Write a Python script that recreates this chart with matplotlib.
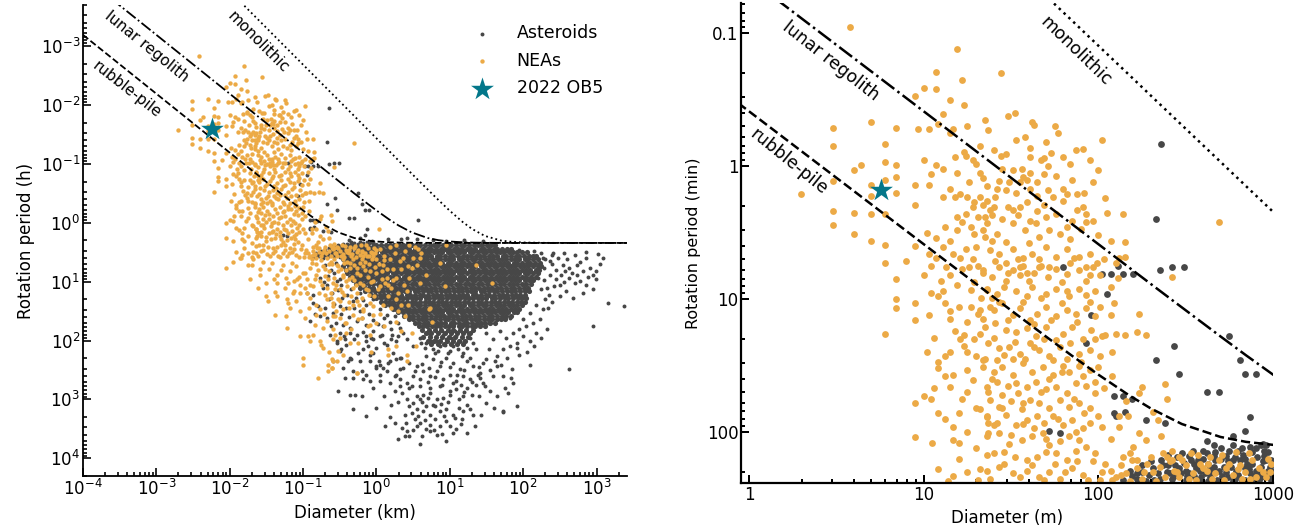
import numpy as np
import matplotlib
matplotlib.use("Agg")
import matplotlib.pyplot as plt
from matplotlib.ticker import LogLocator, NullFormatter

GREY = "#474747"
ORANGE = "#ECAA46"
TEAL = "#03778A"

# spin-barrier curves: diameter (km) vs period (h)
curve_d_km = [1e-4, 1e-3, 0.01, 0.03, 0.05, 0.07, 0.1, 0.15, 0.2, 0.3, 0.5, 0.7,
              1, 1.5, 2, 3, 5, 7, 10, 15, 20, 30, 50, 70, 100, 200, 500, 3000]
rubble_p_h = [6.43e-4, 6.43e-3, 0.0643, 0.192, 0.318, 0.441, 0.617, 0.883, 1.110,
              1.450, 1.816, 1.977, 2.082, 2.145, 2.169, 2.186, 2.195, 2.198, 2.199,
              2.2, 2.2, 2.2, 2.2, 2.2, 2.2, 2.2, 2.2, 2.2]
lunar_p_h = [6.43e-5, 6.43e-4, 6.43e-3, 0.0193, 0.0322, 0.0450, 0.0643, 0.0964,
             0.1284, 0.192, 0.318, 0.441, 0.617, 0.883, 1.110, 1.450, 1.816, 1.977,
             2.082, 2.145, 2.169, 2.186, 2.195, 2.198, 2.199, 2.2, 2.2, 2.2]
mono_p_h = [3.67e-7, 6.53e-6, 1.161e-4, 4.58e-4, 8.68e-4, 1.320e-3, 2.064e-3,
            3.42e-3, 4.91e-3, 8.15e-3, 0.01543, 0.02351, 0.0367, 0.0609, 0.0873,
            0.1449, 0.2723, 0.4107, 0.6257, 0.9717, 1.268, 1.673, 2.006, 2.110,
            2.162, 2.193, 2.2, 2.2]

# 2022 OB5
ob5_d_m = 5.7
ob5_p_min = 1.52

# points inside the right-hand window: (log10 diameter [m], log10 period [min])
nea_small = [
    (0.58, -1.05), (1.19, -0.88), (1.07, -0.71), (1.22, -0.65), (1.00, -0.59), (1.07, -0.58),
    (0.95, -0.53), (1.15, -0.50), (1.23, -0.46), (1.11, -0.39), (0.48, -0.29), (0.70, -0.33),
    (0.84, -0.29), (0.97, -0.28), (1.03, -0.28), (1.08, -0.32), (1.15, -0.25), (1.17, -0.28),
    (1.25, -0.30), (0.48, -0.15), (0.78, -0.17), (1.32, -0.15), (0.64, -0.01), (0.60, 0.03),
    (0.78, -0.03), (0.84, -0.01), (0.48, 0.11), (0.70, 0.14), (0.78, 0.10), (0.84, 0.08),
    (0.95, 0.14), (1.03, 0.14), (1.00, -0.05), (1.07, -0.01), (1.11, 0.02), (1.18, -0.07),
    (1.23, -0.11), (1.24, -0.08), (1.28, -0.05), (1.30, -0.02), (1.04, 0.06), (0.30, 0.21),
    (0.70, 0.22), (0.84, 0.20), (0.95, 0.29), (1.11, 0.23), (1.18, 0.23), (1.21, 0.21),
    (1.25, 0.23), (1.32, 0.23), (1.34, 0.29), (0.48, 0.34), (0.60, 0.35), (0.70, 0.36),
    (0.78, 0.36), (0.48, 0.44), (0.60, 0.51), (0.70, 0.56), (0.78, 0.59), (0.90, 0.71),
    (0.95, 0.60), (1.07, 0.54), (1.11, 0.61), (1.15, 0.56), (1.19, 0.48), (1.22, 0.42),
    (1.27, 0.46), (1.29, 0.51), (1.34, 0.48), (1.36, 0.43), (1.03, 0.66), (1.07, 0.69),
    (1.17, 0.66), (1.21, 0.69), (1.24, 0.62), (1.30, 0.61), (1.26, 0.76), (1.13, 0.76),
    (1.38, 0.33), (1.35, 0.38), (1.36, 0.26), (1.28, 0.31), (1.24, 0.36),
    (1.44, -0.70), (1.48, -0.38), (1.62, -0.33), (1.63, -0.31), (1.75, -0.30), (1.53, -0.20),
    (1.40, -0.12), (1.44, -0.08), (1.47, -0.09), (1.61, -0.07), (1.61, -0.14), (1.67, -0.05),
    (1.69, -0.06), (1.80, -0.07), (1.87, -0.12), (1.91, -0.13), (1.32, 0.05), (1.34, 0.09),
    (1.43, 0.11), (1.49, 0.12), (1.42, 0.17), (1.47, 0.18), (1.51, 0.03), (1.56, 0.02),
    (1.61, 0.05), (1.57, 0.08), (1.55, 0.12), (1.61, 0.17), (1.65, 0.12), (1.69, 0.06),
    (1.65, 0.22), (1.80, 0.17), (1.82, 0.21), (1.88, 0.21), (1.97, 0.12), (1.40, 0.31),
    (1.41, 0.23), (1.39, 0.37), (1.42, 0.51), (1.39, 0.56), (1.48, 0.31), (1.51, 0.33),
    (1.55, 0.31), (1.54, 0.37), (1.51, 0.43), (1.59, 0.27), (1.61, 0.41), (1.65, 0.34),
    (1.64, 0.43), (1.69, 0.29), (1.74, 0.23), (1.80, 0.26), (1.76, 0.36), (1.72, 0.48),
    (1.78, 0.51), (1.82, 0.46), (1.85, 0.41), (1.88, 0.33), (1.93, 0.42), (1.97, 0.41),
    (1.91, 0.31), (1.93, 0.36), (2.07, 0.56), (2.15, 0.57), (2.14, 0.36), (2.15, 0.68),
    (2.12, 0.69), (2.69, 0.42), (1.38, 0.63), (1.43, 0.66), (1.51, 0.62), (1.57, 0.69),
    (1.62, 0.66), (1.70, 0.61), (1.76, 0.68), (1.82, 0.62), (1.89, 0.68), (1.95, 0.66),
    (1.99, 0.73), (1.47, 0.73), (1.55, 0.76), (1.66, 0.76), (1.93, 0.76),
    (0.78, 0.73), (0.84, 0.85), (0.84, 1.00), (0.84, 1.07), (0.95, 1.03), (0.95, 1.16),
    (0.78, 1.26), (1.04, 0.75), (1.04, 0.95), (1.08, 0.98), (1.11, 0.94), (1.15, 1.09),
    (1.15, 1.15), (1.20, 1.06), (1.25, 1.17), (1.15, 0.82), (1.22, 0.77), (1.21, 1.30),
    (1.23, 1.27), (1.23, 1.35), (1.29, 1.30), (1.31, 1.11), (1.32, 1.26), (1.15, 1.40),
    (1.12, 1.43), (1.08, 1.47), (1.08, 1.52), (1.17, 1.57), (1.15, 1.66), (1.28, 1.61),
    (1.30, 1.43), (1.34, 1.46), (1.25, 1.53), (1.00, 1.73), (1.04, 1.75), (1.08, 1.86),
    (1.22, 1.75), (1.20, 1.86), (1.17, 1.96), (1.17, 2.06), (1.20, 2.08), (1.30, 1.82),
    (1.32, 1.83), (1.36, 1.89), (1.37, 1.93), (0.95, 2.04), (1.17, 2.33), (1.14, 2.37),
    (1.32, 2.28), (1.36, 2.17), (1.37, 2.01), (1.37, 1.70), (1.31, 0.75), (1.34, 0.80),
    (1.29, 0.87), (1.36, 0.92), (1.33, 0.99), (1.27, 0.93),
    (1.34, 0.78), (1.39, 0.83), (1.43, 0.76), (1.47, 0.86), (1.51, 0.78), (1.55, 0.82),
    (1.57, 0.75), (1.60, 0.86), (1.63, 0.80), (1.67, 0.75), (1.71, 0.83), (1.76, 0.77),
    (1.82, 0.81), (1.84, 0.73), (1.89, 0.78), (1.93, 0.86), (1.97, 0.76), (2.01, 0.82),
    (2.10, 0.73), (2.11, 0.84), (2.07, 0.91), (1.36, 0.93), (1.42, 0.96), (1.46, 0.91),
    (1.53, 0.94), (1.59, 0.98), (1.62, 0.91), (1.70, 0.96), (1.76, 0.92), (1.82, 0.94),
    (1.89, 0.92), (1.93, 0.97), (1.98, 0.94), (1.83, 0.98), (2.09, 1.03), (2.23, 1.11),
    (1.43, 1.02), (1.38, 1.06), (2.42, 0.83), (1.32, 1.08), (1.40, 1.08), (1.45, 1.03),
    (1.51, 1.12), (1.55, 1.07), (1.61, 1.16), (1.65, 1.11), (1.70, 1.06), (1.76, 1.13),
    (1.82, 1.08), (1.87, 1.11), (1.93, 1.07), (1.98, 1.13), (1.35, 1.21), (1.41, 1.18),
    (1.47, 1.23), (1.53, 1.25), (1.59, 1.22), (1.64, 1.28), (1.70, 1.21), (1.76, 1.31),
    (1.80, 1.26), (1.85, 1.21), (1.91, 1.30), (1.96, 1.23), (2.02, 1.28), (2.07, 1.12),
    (2.04, 1.27), (2.10, 1.26), (2.15, 1.27), (2.22, 1.25), (2.27, 1.27), (1.37, 1.33),
    (1.43, 1.37), (1.49, 1.36), (1.55, 1.41), (1.61, 1.33), (1.66, 1.38), (1.72, 1.43),
    (1.78, 1.36), (1.82, 1.45), (1.89, 1.41), (1.95, 1.38), (2.01, 1.43), (1.42, 1.46),
    (1.51, 1.45), (1.35, 1.45), (1.34, 1.51), (1.40, 1.55), (1.45, 1.51), (1.51, 1.57),
    (1.57, 1.48), (1.62, 1.55), (1.68, 1.51), (1.74, 1.57), (1.80, 1.50), (1.83, 1.55),
    (1.89, 1.50), (1.95, 1.53), (2.00, 1.51), (2.03, 1.67), (1.36, 1.66), (1.42, 1.62),
    (1.48, 1.65), (1.54, 1.71), (1.59, 1.66), (1.64, 1.62), (1.70, 1.68), (1.76, 1.66),
    (1.82, 1.71), (1.87, 1.63), (1.93, 1.65), (1.98, 1.71), (2.25, 1.66), (2.38, 1.64),
    (2.16, 1.77), (2.23, 1.71), (1.38, 1.76), (1.43, 1.81), (1.50, 1.77), (1.56, 1.83),
    (1.61, 1.76), (1.66, 1.78), (1.72, 1.82), (1.78, 1.76), (1.83, 1.81), (1.89, 1.78),
    (1.95, 1.82), (2.00, 1.88), (2.12, 1.88), (2.17, 1.88), (2.31, 1.85), (2.34, 1.91),
    (2.39, 1.75), (1.36, 1.88), (1.42, 1.93), (1.47, 1.87), (1.53, 1.95), (1.59, 1.91),
    (1.63, 1.97), (1.69, 1.93), (1.74, 1.88), (1.80, 1.95), (1.85, 1.91), (1.91, 1.97),
    (1.95, 1.93), (1.36, 2.03), (1.43, 2.01), (1.49, 2.09), (1.56, 2.06), (1.62, 2.03),
    (1.68, 2.01), (1.72, 2.10), (1.78, 2.07), (1.83, 2.03), (1.89, 2.06), (1.93, 2.11),
    (1.98, 2.16), (1.40, 2.16), (1.46, 2.15), (1.52, 2.19), (1.59, 2.21), (1.65, 2.19),
    (1.70, 2.15), (1.76, 2.16), (1.82, 2.21), (1.87, 2.14), (2.23, 2.01), (2.27, 2.06),
    (2.20, 2.11), (2.18, 2.16), (2.14, 2.19), (2.36, 2.03), (2.37, 2.16), (2.30, 2.19),
    (2.42, 2.14), (2.46, 2.19), (2.53, 2.16), (2.42, 2.21), (1.36, 2.29), (1.43, 2.26),
    (1.51, 2.31), (1.59, 2.29), (1.66, 2.34), (1.72, 2.30), (1.78, 2.35), (1.85, 2.27),
    (1.91, 2.32), (1.97, 2.22), (2.01, 2.36), (2.04, 2.24), (2.07, 2.29), (2.10, 2.34),
    (2.13, 2.25), (2.16, 2.31), (2.19, 2.21), (2.22, 2.27), (2.25, 2.35), (2.28, 2.24),
    (2.31, 2.30), (2.35, 2.26), (2.38, 2.34), (2.41, 2.22), (2.43, 2.29), (2.46, 2.34),
    (2.50, 2.25), (2.54, 2.31), (2.58, 2.24), (2.62, 2.29), (2.65, 2.35), (2.69, 2.21),
    (2.73, 2.27), (2.77, 2.32), (2.81, 2.25), (2.84, 2.30), (2.88, 2.21), (2.92, 2.27),
    (2.96, 2.34), (2.99, 2.24), (2.98, 2.30), (2.71, 2.17), (2.79, 2.15), (2.86, 2.16),
    (2.57, 2.17), (2.64, 2.19), (2.08, 2.36), (2.18, 2.37), (2.22, 2.21), (2.33, 2.37),
    (2.39, 2.19), (2.48, 2.21), (2.56, 2.36), (2.75, 2.24), (2.90, 2.34), (2.82, 2.35),
    (1.35, -0.35), (1.52, -0.40), (1.58, -0.22), (1.70, -0.18), (1.77, -0.25), (1.84, -0.02),
    (1.95, -0.05), (2.02, -0.20), (1.37, -0.27), (1.73, -0.10), (1.36, 0.15), (1.45, 0.02),
    (1.53, 0.20), (1.59, 0.10), (1.71, 0.18), (1.76, 0.07), (1.85, 0.10), (1.92, 0.20),
    (2.00, 0.03), (2.04, 0.24), (1.26, 0.12), (1.19, 0.05), (1.15, 0.17), (1.29, 0.27),
    (1.71, 0.00), (1.45, 0.40), (1.58, 0.48), (1.66, 0.53), (1.70, 0.38), (1.84, 0.55),
    (1.90, 0.47), (2.00, 0.52), (2.05, 0.35), (1.35, 0.53), (1.47, 0.57), (1.60, 0.58),
    (1.31, 0.38), (1.19, 0.38), (1.12, 0.46), (1.02, 0.50), (1.41, 0.71), (1.48, 0.80),
    (1.54, 0.70), (1.59, 0.80), (1.66, 0.70), (1.72, 0.76), (1.79, 0.87), (1.86, 0.69),
    (1.95, 0.82), (2.03, 0.70), (1.10, 0.86), (1.19, 0.89), (1.00, 0.82), (1.28, 0.70),
    (1.34, 1.15), (1.39, 0.99), (1.48, 1.16), (1.57, 1.02), (1.63, 1.19), (1.67, 0.99),
    (1.73, 1.16), (1.79, 1.03), (1.88, 1.17), (1.95, 1.02), (2.01, 1.06), (1.03, 1.12),
    (1.12, 1.03), (1.27, 1.06), (1.40, 1.29), (1.46, 1.42), (1.52, 1.32), (1.58, 1.45),
    (1.63, 1.36), (1.69, 1.30), (1.74, 1.46), (1.84, 1.33), (1.90, 1.47), (1.98, 1.30),
    (1.06, 1.29), (1.18, 1.24), (1.02, 1.40), (1.25, 1.40), (2.08, 1.40), (1.39, 1.60),
    (1.45, 1.72), (1.53, 1.63), (1.57, 1.78), (1.67, 1.70), (1.72, 1.60), (1.79, 1.55),
    (1.86, 1.75), (1.91, 1.58), (1.98, 1.62), (1.12, 1.58), (1.25, 1.70), (1.06, 1.67),
    (0.95, 1.78), (2.08, 1.58), (1.40, 1.95), (1.45, 1.82), (1.50, 2.02), (1.57, 1.94),
    (1.65, 1.88), (1.70, 2.05), (1.77, 1.90), (1.87, 2.00), (1.92, 1.86), (2.02, 1.96),
    (1.12, 1.90), (1.25, 2.00), (1.05, 2.08), (1.30, 2.12), (2.07, 2.05), (2.12, 1.96),
    (1.38, 2.35), (1.46, 2.24), (1.55, 2.34), (1.62, 2.25), (1.69, 2.36), (1.75, 2.24),
    (1.81, 2.30), (1.88, 2.22), (1.94, 2.36), (2.02, 2.30), (1.25, 2.30), (1.20, 2.20),
    (1.08, 2.28), (1.31, 2.36), (2.13, 2.32), (2.26, 2.30), (2.45, 2.30), (2.52, 2.35),
    (2.60, 2.27), (2.67, 2.31), (2.72, 2.36), (2.80, 2.28), (2.87, 2.35), (2.94, 2.30),
    (2.97, 2.20), (2.63, 2.24),
]

ast_small = [
    (2.36, -0.17), (2.33, 0.40), (1.80, 0.76), (2.11, 0.75), (2.35, 0.78), (2.42, 0.76),
    (2.49, 0.76), (2.02, 0.81), (2.07, 0.81), (2.14, 0.81), (2.20, 0.81), (2.05, 0.96),
    (1.96, 1.12), (1.93, 1.33), (2.43, 1.35), (2.33, 1.46), (2.75, 1.28), (2.81, 1.46),
    (2.09, 1.73), (2.14, 1.73), (2.19, 1.75), (2.09, 1.86), (2.10, 1.88), (2.15, 1.85),
    (2.46, 1.56), (2.62, 1.70), (2.69, 1.70), (2.87, 1.89), (2.84, 1.56), (2.90, 1.56),
    (1.72, 1.99), (1.78, 2.01), (2.27, 1.91), (2.38, 1.93), (2.62, 2.07), (2.77, 2.03),
    (2.84, 1.99), (2.94, 2.09), (2.87, 2.11), (2.96, 2.10), (2.77, 2.10), (2.66, 2.10),
    (2.14, 2.36), (2.18, 2.29), (2.22, 2.35), (2.25, 2.25), (2.29, 2.32), (2.32, 2.36),
    (2.36, 2.21), (2.39, 2.30), (2.42, 2.35), (2.44, 2.25), (2.47, 2.31), (2.50, 2.36),
    (2.53, 2.21), (2.56, 2.27), (2.59, 2.34), (2.62, 2.16), (2.63, 2.24), (2.65, 2.31),
    (2.68, 2.36), (2.70, 2.20), (2.72, 2.26), (2.74, 2.34), (2.77, 2.21), (2.79, 2.29),
    (2.82, 2.36), (2.83, 2.17), (2.85, 2.24), (2.87, 2.31), (2.89, 2.37), (2.91, 2.19),
    (2.93, 2.26), (2.95, 2.32), (2.97, 2.15), (2.99, 2.21), (2.99, 2.29), (2.99, 2.36),
    (2.48, 2.16), (2.54, 2.14), (2.67, 2.15), (2.75, 2.14), (2.82, 2.12), (2.90, 2.12),
    (2.96, 2.21), (2.92, 2.36), (2.84, 2.36), (2.77, 2.37), (2.69, 2.29), (2.63, 2.37),
    (2.58, 2.29), (2.52, 2.31), (2.46, 2.27), (2.41, 2.31), (2.35, 2.35), (2.27, 2.37),
    (2.22, 2.31), (2.50, 2.29), (2.57, 2.21), (2.60, 2.20), (2.66, 2.26), (2.71, 2.33),
    (2.78, 2.19), (2.86, 2.28), (2.94, 2.22), (2.98, 2.26), (2.55, 2.33), (2.45, 2.19),
    (2.40, 2.25), (2.88, 2.33), (2.80, 2.32), (2.64, 2.28), (2.74, 2.22), (2.92, 2.30),
    (2.31, 2.27), (2.34, 2.31), (2.37, 2.25), (2.43, 2.33), (2.49, 2.23), (2.51, 2.33),
    (2.55, 2.24), (2.58, 2.37), (2.61, 2.31), (2.64, 2.34), (2.67, 2.21), (2.70, 2.36),
    (2.73, 2.30), (2.76, 2.26), (2.78, 2.35), (2.81, 2.21), (2.84, 2.27), (2.86, 2.37),
    (2.88, 2.24), (2.90, 2.29), (2.93, 2.34), (2.95, 2.18), (2.97, 2.29), (2.99, 2.33),
    (2.60, 2.14), (2.70, 2.12), (2.80, 2.14), (2.88, 2.15), (2.95, 2.14), (2.52, 2.18),
    (2.40, 2.17), (2.30, 2.22), (2.19, 2.33), (2.25, 2.30), (2.66, 2.18), (2.73, 2.18),
    (2.93, 2.10), (2.84, 2.20),
]

# left-panel only points: (log10 diameter [km], log10 period [h])
nea_big = [
    (-2.05, 0.76), (-1.84, 0.59), (-1.68, 0.62), (-1.59, 0.79), (-1.43, 0.68), (-1.59, 0.88),
    (-1.36, 0.88), (-1.23, 0.93), (-1.50, 1.25), (-1.48, 1.33), (-1.36, 1.25), (-1.38, 1.56),
    (-1.20, 1.36), (-1.23, 1.59), (-1.22, 1.78), (-1.04, 1.19), (-1.13, 1.16), (-1.04, 1.93),
    (-0.93, 1.93), (-0.98, 1.61), (-0.82, 1.56), (-0.77, 1.47), (-0.84, 1.73), (-0.73, 1.78),
    (-0.91, 2.01), (-0.77, 2.01), (-0.75, 2.07), (-0.73, 2.12), (-0.61, 2.32), (-0.66, 2.41),
    (-0.59, 2.35), (-1.00, 2.29), (-1.00, 2.41), (-0.79, 2.63), (-0.66, 2.52), (-0.61, 2.46),
    (-0.27, 2.55), (-1.27, 0.71), (-1.18, 0.82), (-1.09, 0.74), (-1.00, 0.85), (-0.91, 0.76),
    (-0.82, 0.88), (-0.73, 0.74), (-0.64, 0.82), (-0.54, 0.71), (-0.45, 0.88), (-0.36, 0.76),
    (-0.27, 0.85), (-0.18, 0.74), (-0.09, 0.82), (-1.13, 0.99), (-1.04, 1.05), (-0.95, 0.96),
    (-0.86, 1.08), (-0.77, 0.99), (-0.68, 1.10), (-0.59, 1.02), (-0.50, 1.13), (-0.41, 0.99),
    (-0.32, 1.10), (-0.23, 1.02), (-0.14, 1.13), (-0.04, 0.99), (-1.09, 1.33), (-0.91, 1.27),
    (-0.82, 1.39), (-0.68, 1.30), (-0.59, 1.42), (-0.50, 1.33), (-0.38, 1.44), (-0.27, 1.33),
    (-0.18, 1.47), (-0.09, 1.36), (-0.59, 1.59), (-0.50, 1.61), (-0.41, 1.70), (-0.32, 1.56),
    (-0.04, 1.56), (-0.86, 1.90), (-0.57, 1.90), (-1.04, 1.50), (-0.68, 1.67), (-1.75, 0.71),
    (-1.50, 1.02), (-1.36, 1.02), (-1.38, 1.17), (-1.22, 1.30), (-1.14, 1.19), (-1.95, 0.66),
    (-1.70, 0.72), (-1.55, 0.66), (-1.47, 0.78), (-1.40, 0.95), (-1.30, 0.80), (-1.25, 1.10),
    (-1.15, 0.68), (-1.05, 0.92), (-0.97, 1.10), (-0.88, 0.68), (-0.80, 0.80), (-0.70, 0.90),
    (-0.62, 0.66), (-0.58, 0.93), (-0.48, 0.78), (-0.40, 0.66), (-0.33, 0.92), (-0.22, 0.68),
    (-0.12, 0.92), (-0.95, 1.20), (-0.78, 1.20), (-0.62, 1.20), (-0.44, 1.22), (-0.26, 1.20),
    (-1.18, 1.45), (-0.92, 1.45), (-0.72, 1.55), (-0.55, 1.50), (-0.20, 1.62), (-0.12, 1.75),
    (-0.35, 1.80), (-0.50, 1.95), (-0.25, 2.05), (-0.65, 2.20), (-0.45, 2.25), (-0.08, 2.20),
    (-1.62, 1.10), (-1.72, 0.95),
    (0.03, 0.10), (0.05, 0.45), (0.11, 0.57), (0.18, 0.42), (0.25, 0.51), (0.27, 0.37),
    (0.32, 0.65), (0.39, 0.48), (0.43, 0.74), (0.48, 0.76), (0.52, 0.42), (0.57, 0.45),
    (0.45, 0.37), (0.34, 0.79), (0.23, 0.79), (0.14, 0.93), (0.09, 0.71), (0.05, 1.08),
    (0.68, 0.88), (0.59, 1.02), (0.34, 1.39), (0.43, 1.39), (0.16, 1.25), (0.27, 1.30),
    (0.73, 1.44), (0.86, 0.68), (0.93, 1.08), (1.36, 0.72), (1.57, 1.02), (0.95, 0.38),
    (0.18, 0.62), (0.36, 0.59), (0.50, 0.59), (0.59, 0.59), (0.27, 0.93), (0.45, 0.93),
    (0.20, 1.10), (0.41, 1.16), (0.09, 1.39), (0.55, 0.71), (0.61, 0.51), (0.71, 1.46),
    (0.76, 1.68), (0.54, 2.10), (0.42, 2.24), (0.42, 2.35), (0.16, 2.15), (0.16, 2.24),
    (0.39, 1.58), (0.48, 1.87), (0.34, 1.84), (0.27, 2.10), (0.26, 1.69), (0.11, 1.76),
    (0.00, 1.70), (-0.09, 1.90), (-0.26, 2.55), (-0.36, 2.04), (-0.52, 2.18), (-0.59, 1.98),
    (-0.54, 2.35), (-0.60, 2.47), (-0.59, 1.36), (-0.45, 1.47), (-0.32, 1.39), (-0.18, 1.50),
    (-0.04, 1.42), (-0.57, 1.59), (-0.43, 1.70), (-0.25, 1.64), (-0.09, 1.73), (-0.59, 1.81),
    (-0.41, 1.87), (-0.60, 0.70), (-0.52, 0.82), (-0.44, 0.68), (-0.38, 0.95), (-0.30, 0.72),
    (-0.22, 0.88), (-0.15, 0.66), (-0.08, 1.00), (-0.02, 0.75), (-0.55, 1.05), (-0.47, 1.18),
    (-0.35, 1.25), (-0.28, 1.05), (-0.20, 1.28), (-0.12, 1.15), (-0.03, 1.25), (-0.62, 1.28),
    (0.00, 0.62), (0.08, 0.82), (0.12, 1.02), (0.22, 0.98), (0.30, 1.20), (0.38, 1.05),
    (0.20, 1.45), (0.05, 1.55), (0.30, 1.50),
    (-0.88, 0.62), (-0.82, 0.70), (-0.76, 0.64), (-0.70, 0.78), (-0.65, 0.70), (-0.58, 0.62),
    (-0.52, 0.74), (-0.46, 0.62), (-0.42, 0.80), (-0.36, 0.68), (-0.32, 0.62), (-0.26, 0.76),
    (-0.20, 0.62), (-0.16, 0.80), (-0.10, 0.70), (-0.06, 0.62), (-0.01, 0.86), (0.04, 0.70),
    (0.10, 0.64), (0.14, 0.78), (-0.84, 0.96), (-0.74, 1.05), (-0.66, 0.96), (-0.56, 1.12),
    (-0.46, 0.92), (-0.40, 1.08), (-0.30, 0.98), (-0.18, 1.06), (-0.10, 1.22), (0.02, 1.12),
    (0.08, 0.95), (0.16, 1.05), (-0.70, 1.22), (-0.52, 1.30), (-0.38, 1.35), (-0.24, 1.40),
    (-0.90, 1.05), (-0.98, 0.85), (-1.08, 0.95), (-1.20, 1.02),
]

ast_big = [
    (-0.54, 2.04), (-0.48, 2.15), (-0.39, 2.35), (-0.34, 2.32), (-0.25, 2.21), (-0.18, 2.15),
    (-0.11, 2.10), (-0.04, 2.21), (0.04, 2.35), (0.09, 2.47), (-0.09, 2.35), (-0.20, 2.52),
    (-0.32, 2.64), (-0.43, 2.64), (-0.18, 2.66), (-0.09, 2.69), (0.05, 2.69), (0.18, 2.72),
    (-0.04, 1.98), (0.05, 1.93), (0.11, 2.04), (0.20, 1.98), (0.30, 1.93), (0.23, 2.21),
    (0.27, 2.32), (0.34, 2.30), (-0.14, 1.93), (-0.43, 1.98), (-0.36, 1.87), (-0.50, 1.87),
    (0.05, 2.58), (0.32, 2.49), (0.25, 2.61), (0.16, 2.38), (0.00, 2.44), (-0.52, 2.86),
    (-0.36, 2.92), (-0.29, 2.92), (-0.32, 3.17), (-0.14, 3.28), (0.18, 3.30), (0.30, 3.05),
    (0.41, 1.98), (0.50, 2.10), (0.59, 1.96), (0.68, 2.04), (0.77, 2.15), (0.86, 2.10),
    (0.95, 1.98), (1.05, 2.10), (1.14, 2.01), (1.23, 2.13), (1.32, 2.04), (0.73, 1.93),
    (0.82, 2.01), (0.91, 1.90), (1.00, 2.18), (1.09, 1.93), (1.18, 2.21), (1.27, 1.96),
    (1.36, 2.15), (0.68, 2.27), (0.77, 2.32), (0.86, 2.44), (0.95, 2.30), (1.05, 2.38),
    (1.14, 2.49), (1.23, 2.35), (1.32, 2.44), (1.41, 2.55), (1.45, 2.38), (0.45, 2.38),
    (0.55, 2.44), (0.64, 2.52), (0.73, 2.61), (0.82, 2.52), (0.91, 2.66), (1.00, 2.58),
    (1.09, 2.69), (1.18, 2.61), (1.27, 2.66), (1.36, 2.75), (1.45, 2.72), (0.59, 2.66),
    (0.50, 2.61), (0.41, 2.72), (0.32, 2.66), (0.36, 2.47), (0.48, 2.78), (0.73, 2.81),
    (0.86, 2.78), (1.00, 2.86), (1.23, 2.81), (1.41, 2.64), (0.66, 2.13), (0.75, 2.01),
    (0.84, 2.18), (0.93, 2.07), (1.02, 1.96), (1.11, 2.15), (1.20, 2.01), (0.70, 1.87),
    (0.89, 1.84), (1.07, 1.84), (1.25, 1.87), (0.98, 2.21), (0.80, 2.21), (1.16, 2.27),
    (0.61, 2.04), (1.50, 1.87), (1.59, 1.98), (1.68, 1.84), (1.77, 1.96), (1.86, 1.87),
    (1.95, 1.81), (2.04, 1.76), (2.13, 1.70), (2.23, 1.64), (1.54, 2.15), (1.64, 2.27),
    (1.73, 2.15), (1.82, 2.10), (1.91, 2.04), (2.00, 1.93), (2.09, 2.01), (2.18, 1.87),
    (1.64, 2.44), (1.73, 2.61), (1.84, 2.64), (1.75, 2.81), (1.86, 2.72), (1.91, 2.13),
    (1.59, 2.61), (1.50, 2.32), (1.48, 2.78), (2.27, 1.47), (2.34, 1.44), (1.73, 1.53),
    (1.82, 1.61), (1.91, 1.50), (2.09, 1.53), (2.00, 1.64), (2.18, 1.39), (1.64, 1.64),
    (1.54, 1.70), (0.32, 2.78), (0.45, 2.81), (0.55, 2.95), (0.64, 2.92), (0.73, 2.89),
    (0.82, 3.00), (0.91, 2.98), (1.00, 2.92), (1.09, 2.83), (1.18, 2.95), (0.50, 3.06),
    (0.59, 3.00), (0.68, 3.12), (0.77, 3.09), (0.86, 3.20), (0.95, 3.17), (1.05, 3.26),
    (0.45, 3.12), (0.55, 3.17), (0.64, 3.20), (0.73, 3.26), (0.57, 3.29), (0.48, 3.23),
    (0.39, 3.26), (0.73, 3.43), (0.86, 3.46), (0.95, 3.37), (0.59, 3.40), (0.68, 3.51),
    (0.55, 3.46), (0.41, 3.54), (0.52, 3.34), (0.73, 3.54), (0.82, 3.60), (1.09, 3.51),
    (1.23, 3.57), (1.07, 3.32), (0.39, 3.63), (0.30, 3.68), (0.45, 3.63), (1.05, 3.57),
    (1.16, 3.34), (1.27, 3.17), (1.32, 3.26), (1.50, 3.06), (1.73, 3.20), (1.91, 3.12),
    (1.43, 3.26), (1.23, 3.09), (1.18, 3.20), (2.63, 2.48), (2.95, 1.75), (3.16, 1.36),
    (3.38, 1.41), (2.09, 2.41), (1.72, 3.22),
    (2.27, 0.59), (2.36, 0.65), (2.48, 0.59), (2.54, 0.71), (2.63, 0.76), (2.73, 0.71),
    (2.82, 0.82), (2.86, 0.59), (2.91, 0.76), (2.95, 0.88), (2.99, 0.82), (3.09, 0.59),
    (2.50, 1.05), (2.59, 1.16), (2.68, 1.27), (2.77, 0.99), (2.86, 1.05), (2.95, 1.13),
    (2.99, 0.96), (2.36, 0.88), (2.45, 0.96), (2.32, 1.10), (2.63, 0.93), (2.73, 0.88),
    (2.82, 1.19), (2.57, 0.82), (2.20, 0.93), (2.29, 0.76), (2.41, 0.51), (1.95, 0.47),
    (2.15, 0.48), (2.25, 0.52), (2.40, 0.55), (2.55, 0.52), (2.70, 0.55), (2.85, 0.50),
    (3.02, 0.53), (2.30, 0.62), (2.40, 0.70), (2.45, 0.80), (2.52, 0.88), (2.60, 0.62),
    (2.67, 0.85), (2.70, 1.02), (2.78, 0.66), (2.88, 0.92), (3.05, 0.70), (2.42, 1.08),
    (2.55, 1.00), (2.28, 0.98), (2.35, 1.22), (2.25, 1.12), (2.30, 1.30), (2.40, 1.35),
    (2.50, 1.25),
    (-0.86, 1.36), (-0.79, 1.42), (-0.84, 1.55), (-0.77, 1.59), (-0.91, 1.67), (-0.68, 1.61),
    (-0.59, 1.53), (-0.50, 1.42), (-0.41, 1.44), (-0.32, 1.33), (-0.23, 1.50), (-0.14, 1.39),
    (-0.04, 1.30), (0.05, 1.47), (0.14, 1.56), (-0.45, 1.73), (-0.36, 1.78), (-0.27, 1.67),
    (-0.14, 1.73), (-0.04, 1.84), (0.09, 1.76), (0.21, 1.90), (0.32, 1.78), (-0.63, 1.90),
    (-0.54, 2.01), (-0.41, 2.07), (-0.27, 1.90), (-0.14, 2.01), (0.00, 2.12), (0.14, 2.07),
    (0.27, 2.01), (-0.50, 2.18), (-0.36, 2.29), (-0.23, 2.35), (-0.09, 2.24), (0.05, 2.41),
    (0.18, 2.35), (0.32, 2.29), (-0.59, 2.35), (-0.45, 2.46), (-0.32, 2.52), (-0.14, 2.58),
    (0.00, 2.46), (0.14, 2.52), (0.27, 2.58), (-0.86, 1.22), (-0.73, 1.10), (-0.95, 1.19),
    (-0.77, 0.93), (-0.68, 1.05), (-0.54, 0.99), (-0.60, 1.20), (-0.52, 1.15), (-0.47, 1.28),
    (-0.40, 1.22), (-0.35, 1.12), (-0.28, 1.28), (-0.22, 1.20), (-0.18, 1.32), (-0.65, 1.30),
    (-0.58, 1.38), (-0.48, 1.55), (-0.38, 1.60), (-0.30, 1.45), (-0.20, 1.62), (-0.10, 1.55),
    (-0.05, 1.65), (0.02, 1.72), (0.10, 1.62), (0.18, 1.68), (0.25, 1.58), (-0.55, 1.70),
    (-0.70, 1.45), (-0.62, 1.75), (-0.44, 1.92), (-0.30, 1.98), (-0.18, 1.85), (-0.08, 1.95),
    (0.08, 1.90), (0.20, 1.80), (0.30, 1.70), (0.36, 1.88), (-0.70, 0.72), (-0.62, 0.80),
    (-0.55, 0.68), (-0.66, 0.90), (-0.58, 0.86), (-0.50, 0.95), (-0.72, 1.00), (-0.48, 1.05),
    (0.56, -0.04), (0.16, 0.28), (0.34, 0.28), (0.41, 0.26), (0.55, 0.28), (0.77, 0.30),
    (0.95, 0.31), (1.20, 0.30), (1.45, 0.31),
    (0.35, 2.90), (0.42, 3.00), (0.62, 3.05), (0.70, 2.98), (0.80, 3.12), (0.88, 3.08),
    (0.98, 3.05), (1.12, 3.00), (1.20, 2.88), (1.30, 2.92), (0.40, 3.40), (0.50, 3.52),
    (0.62, 3.62), (0.78, 3.52), (0.90, 3.58), (1.00, 3.45), (1.15, 3.42), (0.35, 3.48),
    (0.66, 3.35), (0.80, 3.33), (0.92, 3.28), (1.12, 3.15), (0.60, 2.78), (0.70, 2.70),
    (0.80, 2.62), (0.90, 2.76), (1.05, 2.72), (1.15, 2.76), (1.30, 2.70), (1.38, 2.58),
    (0.52, 2.52), (0.62, 2.40), (0.72, 2.46), (0.88, 2.36), (1.00, 2.45), (1.10, 2.58),
    (1.20, 2.50), (1.28, 2.30), (1.40, 2.45), (1.55, 2.50), (1.62, 2.35), (1.70, 2.42),
    (1.78, 2.30), (1.85, 2.48), (1.95, 2.25), (2.05, 2.20), (2.15, 2.10), (2.25, 1.95),
    (2.32, 1.80), (1.55, 2.85), (1.65, 2.95), (1.80, 2.90), (1.40, 2.95), (1.60, 3.15),
    (0.25, 2.85), (0.20, 3.10), (0.10, 2.95), (-0.05, 2.80), (-0.20, 2.95), (0.00, 3.15),
    (0.12, 3.45), (0.25, 3.40), (0.95, 3.70), (0.60, 3.75), (1.35, 3.45),
]

# dense asteroid core: log10 period [h] -> log10 diameters [km] along that row
ast_core = {
    0.38: [0.00, 0.06, 0.13, 0.18, 0.24, 0.31, 0.36, 0.42, 0.49, 0.54, 0.60, 0.66, 0.73, 0.78,
           0.84, 0.91, 0.96, 1.02, 1.08, 1.15, 1.20, 1.26, 1.33, 1.38, 1.44, 1.51, 1.56, 1.62],
    0.44: [0.03, 0.09, 0.16, 0.21, 0.27, 0.34, 0.39, 0.45, 0.52, 0.57, 0.63, 0.70, 0.75, 0.81,
           0.88, 0.93, 0.99, 1.06, 1.11, 1.17, 1.24, 1.29, 1.35, 1.42, 1.47, 1.53, 1.60, 1.65,
           1.71, 1.78, 1.84],
    0.50: [0.00, 0.07, 0.12, 0.18, 0.25, 0.30, 0.36, 0.43, 0.48, 0.54, 0.61, 0.66, 0.72, 0.79,
           0.84, 0.90, 0.97, 1.02, 1.08, 1.14, 1.20, 1.27, 1.32, 1.38, 1.45, 1.50, 1.56, 1.63,
           1.68, 1.74, 1.81, 1.86, 1.92, 1.99, 2.05],
    0.56: [0.03, 0.10, 0.15, 0.21, 0.28, 0.33, 0.39, 0.46, 0.51, 0.57, 0.64, 0.69, 0.75, 0.82,
           0.87, 0.93, 1.00, 1.05, 1.11, 1.18, 1.23, 1.29, 1.36, 1.41, 1.47, 1.54, 1.59, 1.65,
           1.72, 1.77, 1.83, 1.90, 1.95, 2.01, 2.08, 2.13, 2.18],
    0.62: [-0.45, -0.39, -0.32, -0.27, -0.21, -0.14, -0.09, -0.03, 0.04, 0.09, 0.15, 0.22,
           0.27, 0.33, 0.40, 0.45, 0.51, 0.58, 0.63, 0.69, 0.76, 0.81, 0.87, 0.94, 0.99, 1.05,
           1.12, 1.17, 1.23, 1.30, 1.35, 1.41, 1.48, 1.53, 1.59, 1.66, 1.71, 1.77, 1.84, 1.89,
           1.95, 2.02, 2.07, 2.13, 2.20],
    0.68: [-0.42, -0.36, -0.29, -0.24, -0.18, -0.11, -0.06, 0.00, 0.07, 0.12, 0.18, 0.25,
           0.30, 0.36, 0.43, 0.48, 0.54, 0.61, 0.66, 0.72, 0.79, 0.84, 0.90, 0.97, 1.02, 1.08,
           1.15, 1.20, 1.26, 1.33, 1.38, 1.44, 1.51, 1.56, 1.62, 1.69, 1.74, 1.80, 1.87, 1.92,
           1.98, 2.05, 2.10, 2.16, 2.23],
    0.74: [-0.45, -0.38, -0.33, -0.27, -0.20, -0.15, -0.09, -0.02, 0.03, 0.09, 0.16, 0.21,
           0.27, 0.34, 0.39, 0.45, 0.52, 0.57, 0.63, 0.70, 0.75, 0.81, 0.88, 0.93, 0.99, 1.06,
           1.11, 1.17, 1.24, 1.29, 1.35, 1.42, 1.47, 1.53, 1.60, 1.65, 1.71, 1.78, 1.83, 1.89,
           1.96, 2.01, 2.07, 2.14, 2.20, 2.25],
    0.80: [-0.42, -0.35, -0.30, -0.24, -0.17, -0.12, -0.06, 0.01, 0.06, 0.12, 0.19, 0.24,
           0.30, 0.37, 0.42, 0.48, 0.55, 0.60, 0.66, 0.73, 0.78, 0.84, 0.91, 0.96, 1.02, 1.09,
           1.14, 1.20, 1.27, 1.32, 1.38, 1.45, 1.50, 1.56, 1.63, 1.68, 1.74, 1.81, 1.86, 1.92,
           1.99, 2.04, 2.10, 2.17, 2.22],
    0.86: [-0.40, -0.33, -0.27, -0.21, -0.15, -0.09, -0.03, 0.04, 0.09, 0.15, 0.22, 0.27,
           0.33, 0.40, 0.45, 0.51, 0.58, 0.63, 0.69, 0.76, 0.81, 0.87, 0.94, 0.99, 1.05, 1.12,
           1.17, 1.23, 1.30, 1.35, 1.41, 1.48, 1.53, 1.59, 1.66, 1.71, 1.77, 1.84, 1.89, 1.95,
           2.02, 2.07, 2.14, 2.20],
    0.92: [-0.36, -0.30, -0.24, -0.18, -0.12, -0.06, 0.01, 0.06, 0.12, 0.19, 0.24, 0.30,
           0.37, 0.42, 0.48, 0.55, 0.60, 0.66, 0.73, 0.78, 0.84, 0.91, 0.96, 1.02, 1.09, 1.14,
           1.20, 1.27, 1.32, 1.38, 1.45, 1.50, 1.56, 1.63, 1.68, 1.74, 1.81, 1.86, 1.92, 1.99,
           2.04, 2.11, 2.17],
    0.98: [-0.32, -0.27, -0.21, -0.14, -0.09, -0.03, 0.04, 0.09, 0.15, 0.22, 0.27, 0.33,
           0.40, 0.45, 0.51, 0.58, 0.63, 0.69, 0.76, 0.81, 0.87, 0.94, 0.99, 1.05, 1.12, 1.17,
           1.23, 1.30, 1.35, 1.41, 1.48, 1.53, 1.59, 1.66, 1.71, 1.77, 1.84, 1.89, 1.95, 2.02,
           2.08, 2.14],
    1.04: [-0.28, -0.22, -0.17, -0.10, -0.05, 0.02, 0.07, 0.12, 0.19, 0.24, 0.31, 0.36,
           0.42, 0.49, 0.54, 0.61, 0.66, 0.72, 0.79, 0.84, 0.91, 0.96, 1.02, 1.09, 1.14, 1.21,
           1.26, 1.32, 1.39, 1.44, 1.51, 1.56, 1.62, 1.69, 1.74, 1.81, 1.86, 1.92, 1.99, 2.04,
           2.11],
    1.10: [-0.22, -0.15, -0.10, -0.04, 0.03, 0.08, 0.14, 0.21, 0.26, 0.32, 0.39, 0.44, 0.50,
           0.57, 0.62, 0.68, 0.75, 0.80, 0.86, 0.93, 0.98, 1.04, 1.11, 1.16, 1.22, 1.29, 1.34,
           1.40, 1.47, 1.52, 1.58, 1.65, 1.70, 1.76, 1.83, 1.88, 1.94, 2.01, 2.07],
    1.16: [-0.15, -0.09, -0.02, 0.03, 0.09, 0.16, 0.21, 0.27, 0.34, 0.39, 0.45, 0.52, 0.57,
           0.63, 0.70, 0.75, 0.81, 0.88, 0.93, 0.99, 1.06, 1.11, 1.17, 1.24, 1.29, 1.35, 1.42,
           1.47, 1.53, 1.60, 1.65, 1.71, 1.78, 1.83, 1.89, 1.96, 2.02, 2.08],
    1.22: [-0.08, -0.02, 0.05, 0.10, 0.16, 0.23, 0.28, 0.34, 0.41, 0.46, 0.52, 0.59, 0.64,
           0.70, 0.77, 0.82, 0.88, 0.95, 1.00, 1.06, 1.13, 1.18, 1.24, 1.31, 1.36, 1.42, 1.49,
           1.54, 1.60, 1.67, 1.72, 1.78, 1.85, 1.90, 1.96, 2.03],
    1.28: [0.00, 0.06, 0.13, 0.18, 0.24, 0.31, 0.36, 0.42, 0.49, 0.54, 0.60, 0.67, 0.72, 0.78,
           0.85, 0.90, 0.96, 1.03, 1.08, 1.14, 1.21, 1.26, 1.32, 1.39, 1.44, 1.50, 1.57, 1.62,
           1.68, 1.75, 1.80, 1.86, 1.93, 1.98, 2.04],
    1.34: [0.06, 0.12, 0.17, 0.23, 0.30, 0.35, 0.41, 0.48, 0.53, 0.59, 0.66, 0.71, 0.77, 0.84,
           0.89, 0.95, 1.02, 1.07, 1.13, 1.20, 1.25, 1.31, 1.38, 1.43, 1.49, 1.56, 1.61, 1.67,
           1.74, 1.79, 1.85, 1.92, 1.97, 2.02],
    1.40: [0.12, 0.19, 0.24, 0.30, 0.37, 0.42, 0.48, 0.55, 0.60, 0.66, 0.73, 0.78, 0.84, 0.91,
           0.96, 1.02, 1.09, 1.14, 1.20, 1.27, 1.32, 1.38, 1.45, 1.50, 1.56, 1.63, 1.68, 1.74,
           1.81, 1.86, 1.92, 1.99],
    1.46: [0.22, 0.27, 0.33, 0.40, 0.45, 0.51, 0.58, 0.63, 0.69, 0.76, 0.81, 0.87, 0.94, 0.99,
           1.05, 1.12, 1.17, 1.23, 1.30, 1.35, 1.41, 1.48, 1.53, 1.59, 1.66, 1.71, 1.77, 1.84,
           1.89, 1.95],
    1.52: [0.30, 0.36, 0.43, 0.48, 0.54, 0.61, 0.66, 0.72, 0.79, 0.84, 0.90, 0.97, 1.02, 1.08,
           1.15, 1.20, 1.26, 1.33, 1.38, 1.44, 1.51, 1.56, 1.62, 1.69, 1.74, 1.80, 1.87, 1.92],
    1.58: [0.38, 0.45, 0.50, 0.56, 0.63, 0.68, 0.74, 0.81, 0.86, 0.92, 0.99, 1.04, 1.10, 1.17,
           1.22, 1.28, 1.35, 1.40, 1.46, 1.53, 1.58, 1.64, 1.71, 1.76, 1.84],
    1.64: [0.44, 0.50, 0.57, 0.62, 0.68, 0.75, 0.80, 0.86, 0.93, 0.98, 1.04, 1.11, 1.16, 1.22,
           1.29, 1.34, 1.40, 1.47, 1.52, 1.58, 1.65, 1.70, 1.75],
    1.70: [0.52, 0.58, 0.65, 0.70, 0.76, 0.83, 0.88, 0.94, 1.01, 1.06, 1.12, 1.19, 1.24, 1.30,
           1.37, 1.42, 1.48, 1.55, 1.61],
    1.76: [0.58, 0.63, 0.69, 0.76, 0.81, 0.87, 0.94, 0.99, 1.05, 1.12, 1.17, 1.23, 1.30, 1.35,
           1.41, 1.48],
    1.82: [0.62, 0.71, 0.80, 0.88, 0.97, 1.05, 1.14, 1.22, 1.31],
    1.88: [0.67, 0.75, 0.84, 0.93, 1.01, 1.10, 1.18, 1.27],
    1.94: [0.64, 0.73, 0.81, 0.90, 0.99, 1.07, 1.16, 1.25],
    2.00: [0.70, 0.79, 0.87, 0.96, 1.04, 1.13, 1.21],
    2.06: [0.75, 0.84, 0.92, 1.01, 1.10, 1.18],
}

# ---- assemble (right panel in m / min, left panel in km / h) ----
ns = np.array(nea_small)
as_ = np.array(ast_small)
nb = np.array(nea_big)
ab = np.array(ast_big)
core = np.array([(d, p) for p, ds in ast_core.items() for d in ds])

nea_r_d, nea_r_p = 10 ** ns[:, 0], 10 ** ns[:, 1]
ast_r_d, ast_r_p = 10 ** as_[:, 0], 10 ** as_[:, 1]

nea_l_d = np.concatenate([nea_r_d / 1000, 10 ** nb[:, 0]])
nea_l_p = np.concatenate([nea_r_p / 60, 10 ** nb[:, 1]])
ast_l_d = np.concatenate([ast_r_d / 1000, 10 ** ab[:, 0]])
ast_l_p = np.concatenate([ast_r_p / 60, 10 ** ab[:, 1]])
core_d, core_p = 10 ** core[:, 0], 10 ** core[:, 1]

cd_km = np.array(curve_d_km)

fig = plt.figure(figsize=(13.13, 5.32), dpi=100)
ax1 = fig.add_axes([0.0632, 0.1053, 0.4143, 0.8853])
ax2 = fig.add_axes([0.5644, 0.0921, 0.4052, 0.9023])

# left panel
ax1.scatter(core_d, core_p, s=14, c=GREY, lw=0, zorder=1)
ax1.scatter(ast_l_d, ast_l_p, s=8, c=GREY, lw=0, label="Asteroids", zorder=1)
ax1.scatter(nea_l_d, nea_l_p, s=10, c=ORANGE, lw=0, label="NEAs", zorder=2)
ax1.plot(cd_km, rubble_p_h, "k--", lw=1.3, zorder=3)
ax1.plot(cd_km, lunar_p_h, "k-.", lw=1.3, zorder=3)
ax1.plot(cd_km, mono_p_h, "k:", lw=1.3, zorder=3)
ax1.scatter([ob5_d_m / 1000], [ob5_p_min / 60], s=300, marker="*", c=TEAL, lw=0,
            label="2022 OB5", zorder=5)

ax1.set_xscale("log")
ax1.set_yscale("log")
ax1.set_xticks([1e-4, 1e-3, 1e-2, 1e-1, 1e0, 1e1, 1e2, 1e3])
ax1.set_yticks([1e-3, 1e-2, 1e-1, 1e0, 1e1, 1e2, 1e3, 1e4])
for axis in (ax1.xaxis, ax1.yaxis):
    axis.set_minor_locator(LogLocator(base=10, subs=np.arange(2, 10) * 1.0, numticks=20))
    axis.set_minor_formatter(NullFormatter())
ax1.set_xlim(1e-4, 2.6e3)
ax1.set_ylim(2e4, 2e-4)
ax1.set_xlabel("Diameter (km)", fontsize=12)
ax1.set_ylabel("Rotation period (h)", fontsize=12)

ax1.text(7.4e-4, 1.0e-3, "lunar regolith", rotation=-39, fontsize=11,
         ha="center", va="center", rotation_mode="anchor")
ax1.text(0.0242, 8.5e-4, "monolithic", rotation=-45, fontsize=11,
         ha="center", va="center", rotation_mode="anchor")
ax1.text(4.0e-4, 5.4e-3, "rubble-pile", rotation=-38, fontsize=11,
         ha="center", va="center", rotation_mode="anchor")

ax1.legend(loc="upper right", bbox_to_anchor=(0.978, 0.985), frameon=False, fontsize=12.5,
           scatterpoints=1, handletextpad=1.0, labelspacing=0.55, borderaxespad=0.3)

# right panel
ax2.scatter(ast_r_d, ast_r_p, s=24, c=GREY, lw=0, zorder=1)
ax2.scatter(nea_r_d, nea_r_p, s=24, c=ORANGE, lw=0, zorder=2)
ax2.plot(cd_km * 1000, np.array(rubble_p_h) * 60, "k--", lw=1.8, zorder=3)
ax2.plot(cd_km * 1000, np.array(lunar_p_h) * 60, "k-.", lw=1.8, zorder=3)
ax2.plot(cd_km * 1000, np.array(mono_p_h) * 60, "k:", lw=1.8, zorder=3)
ax2.scatter([ob5_d_m], [ob5_p_min], s=300, marker="*", c=TEAL, lw=0, zorder=5)

ax2.set_xscale("log")
ax2.set_yscale("log")
ax2.set_xticks([1, 10, 100, 1000], labels=["1", "10", "100", "1000"])
ax2.set_yticks([0.1, 1, 10, 100], labels=["0.1", "1", "10", "100"])
ax2.xaxis.set_minor_formatter(NullFormatter())
ax2.yaxis.set_minor_formatter(NullFormatter())
ax2.set_xlim(0.9, 1000)
ax2.set_ylim(242, 0.059)
ax2.set_xlabel("Diameter (m)", fontsize=12)
ax2.set_ylabel("Rotation period (min)", fontsize=11.5)

ax2.text(2.93, 0.16, "lunar regolith", rotation=-38, fontsize=12.5,
         ha="center", va="center", rotation_mode="anchor")
ax2.text(1.68, 0.93, "rubble-pile", rotation=-39, fontsize=12.5,
         ha="center", va="center", rotation_mode="anchor")
ax2.text(74.5, 0.136, "monolithic", rotation=-44, fontsize=12.5,
         ha="center", va="center", rotation_mode="anchor")

for ax, lw in ((ax1, 1.3), (ax2, 1.6)):
    ax.spines[["top", "right"]].set_visible(False)
    ax.spines[["left", "bottom"]].set_linewidth(lw)
    ax.tick_params(which="both", direction="in", labelsize=12, width=lw * 0.9, pad=2)
    ax.tick_params(which="major", length=6)
    ax.tick_params(which="minor", length=3)

fig.savefig("out.png", dpi=100)
